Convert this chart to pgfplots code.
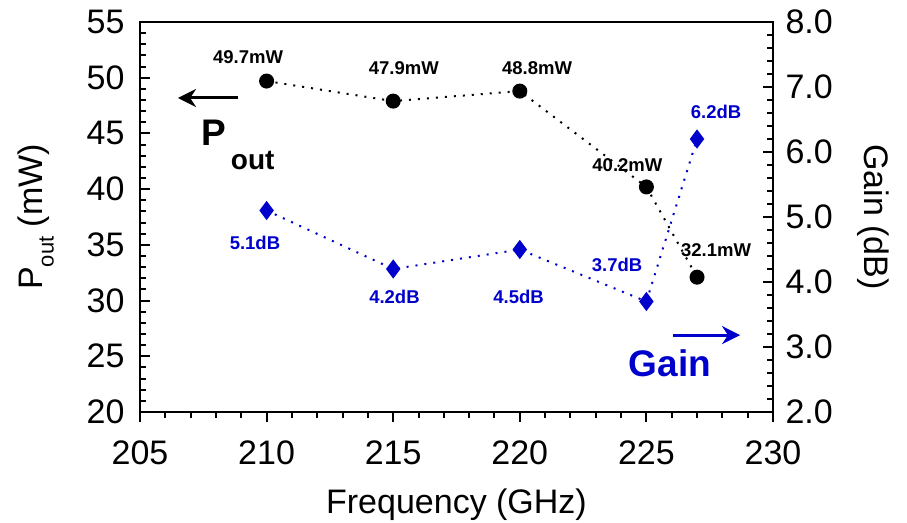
\documentclass[border=0pt]{standalone}
\usepackage{fontspec}
\setmainfont{Liberation Sans}
\usepackage{pgfplots}
\pgfplotsset{compat=1.18}
\usetikzlibrary{arrows.meta}

\definecolor{gainblue}{RGB}{0,0,204}

\pgfplotsset{
  common/.style={
    scale only axis, width=633pt, height=390pt,
    xmin=205, xmax=230, clip=false,
    axis line style={line width=2.5pt},
    major tick length=10pt, minor tick length=6pt,
    every tick/.style={black, line width=2pt},
    ticklabel style={font=\fontsize{34}{34}\selectfont},
    label style={font=\fontsize{34}{34}\selectfont},
    /pgf/number format/assume math mode=true,
  },
}
\tikzset{lbl/.style={font=\bfseries\fontsize{18.5}{18.5}\selectfont}}

\begin{document}
\begin{tikzpicture}
% x axis ticks (outside)
\begin{axis}[common,
  axis x line*=bottom, axis y line=none,
  ymin=20, ymax=55,
  xtick={205,210,...,230}, minor x tick num=4,
  tick align=outside,
  xticklabel style={yshift=-15pt},
  xlabel={Frequency (GHz)},
  xlabel style={yshift=-17pt},
]
\end{axis}

% left axis: Pout
\begin{axis}[common,
  ymin=20, ymax=55,
  xtick=\empty,
  ytick={20,25,...,55}, minor y tick num=4,
  ytick pos=left, tick align=inside,
  yticklabel style={xshift=-12pt},
  ylabel={P\raisebox{-0.32em}{\fontsize{22}{22}\selectfont out} (mW)},
  ylabel style={yshift=26pt},
]
\addplot[black, line width=2pt, dash pattern=on 2pt off 7pt,
  mark=*, mark size=6.5pt, mark options={solid}]
  coordinates {(210,49.7) (215,47.9) (220,48.8) (225,40.2) (227,32.1)};

\node[lbl] at (axis cs:209.27,51.86) {49.7mW};
\node[lbl] at (axis cs:215.42,50.87) {47.9mW};
\node[lbl] at (axis cs:220.68,50.87) {48.8mW};
\node[lbl] at (axis cs:224.25,42.17) {40.2mW};
\node[lbl] at (axis cs:227.75,34.54) {32.1mW};

\node[lbl, gainblue] at (axis cs:227.75,46.92) {6.2dB};
\node[lbl, gainblue] at (axis cs:223.84,33.19) {3.7dB};
\node[lbl, gainblue] at (axis cs:209.54,35.17) {5.1dB};
\node[lbl, gainblue] at (axis cs:215.05,30.32) {4.2dB};
\node[lbl, gainblue] at (axis cs:219.95,30.32) {4.5dB};

\draw[line width=3pt, -{Stealth[length=18pt,width=18pt]}]
  (axis cs:208.87,48.18) -- (axis cs:206.5,48.18);
\node[font=\bfseries\fontsize{37}{37}\selectfont] at (axis cs:207.9,45.04) {P};
\node[font=\bfseries\fontsize{28}{28}\selectfont] at (axis cs:209.45,42.6) {out};

\draw[gainblue, line width=3pt, -{Stealth[length=18pt,width=18pt]}]
  (axis cs:226.05,26.9) -- (axis cs:228.7,26.9);
\node[font=\bfseries\fontsize{37}{37}\selectfont, gainblue] at (axis cs:225.93,24.4) {Gain};
\end{axis}

% right axis: Gain
\begin{axis}[common,
  axis y line*=right, axis x line=none,
  ymin=2, ymax=8,
  ytick={2,3,...,8}, minor y tick num=4,
  tick align=inside,
  yticklabel style={xshift=9pt, /pgf/number format/.cd, fixed, fixed zerofill, precision=1},
  ylabel={Gain (dB)},
  ylabel style={rotate=180, yshift=18pt},
]
\addplot[gainblue, line width=2pt, dash pattern=on 2pt off 7pt,
  mark=diamond*, mark size=8pt, mark options={solid}]
  coordinates {(210,5.1) (215,4.2) (220,4.5) (225,3.7) (227,6.2)};
\end{axis}

\pgfresetboundingbox
\path[use as bounding box] (-140pt,-110pt) rectangle (767pt,412pt);
\end{tikzpicture}
\end{document}
